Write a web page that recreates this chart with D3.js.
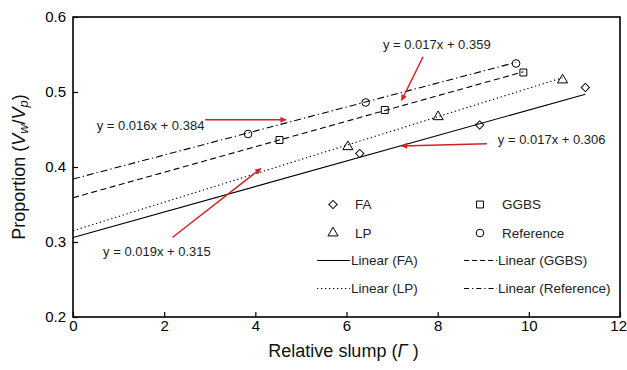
<!DOCTYPE html>
<html>
<head>
<meta charset="utf-8">
<script src="https://cdn.jsdelivr.net/npm/d3@7"></script>
<style>
  html, body { margin: 0; padding: 0; background: #fff; }
  svg { display: block; font-family: "Liberation Sans", Arial, sans-serif; }
</style>
</head>
<body>
<svg id="chart" width="627" height="370"></svg>
<script>
// ---- data ----
const faX = [6.29, 8.92, 11.24];
const faY = [0.418, 0.456, 0.506];
const lpX = [6.03, 8.01, 10.74];
const lpY = [0.427, 0.467, 0.516];
const ggbsX = [4.53, 6.84, 9.88];
const ggbsY = [0.436, 0.476, 0.526];
const refX = [3.84, 6.42, 9.72];
const refY = [0.444, 0.486, 0.538];

const seriesNames = ["FA", "GGBS", "LP", "Reference"];
const slopes = [0.017, 0.017, 0.019, 0.016];
const intercepts = [0.306, 0.359, 0.315, 0.384];
const equationLabels = ["y = 0.017x + 0.306", "y = 0.017x + 0.359", "y = 0.019x + 0.315", "y = 0.016x + 0.384"];

const xTicks = [0, 2, 4, 6, 8, 10, 12];
const yTicks = [0.2, 0.3, 0.4, 0.5, 0.6];

// ---- layout ----
const svg = d3.select("#chart");
const margin = { left: 73, right: 7, top: 17, bottom: 53 };
const W = 627, H = 370;
const x = d3.scaleLinear().domain([0, 12]).range([margin.left, W - margin.right]);
const y = d3.scaleLinear().domain([0.2, 0.6]).range([H - margin.bottom, margin.top]);

const series = [
  { name: "FA", xs: faX, ys: faY, shape: "diamond", dash: null },
  { name: "GGBS", xs: ggbsX, ys: ggbsY, shape: "square", dash: "6,3.5" },
  { name: "LP", xs: lpX, ys: lpY, shape: "triangle", dash: "1.3,2.7" },
  { name: "Reference", xs: refX, ys: refY, shape: "circle", dash: "7,3,1.3,3" }
];

// axes
const xAxis = d3.axisBottom(x).tickValues(xTicks).tickSize(-5).tickPadding(5).tickFormat(d3.format("d"));
const yAxis = d3.axisLeft(y).tickValues(yTicks).tickSize(-5).tickPadding(7).tickFormat(d3.format(".1f"));

const gx = svg.append("g").attr("transform", `translate(0,${y(0.2)})`).call(xAxis);
const gy = svg.append("g").attr("transform", `translate(${x(0)},0)`).call(yAxis);
[gx, gy].forEach(g => {
  g.select(".domain").remove();
  g.selectAll(".tick line").attr("stroke", "#000").attr("stroke-width", 1.2);
  g.selectAll(".tick text").attr("fill", "#000").style("font-size", "15px");
});
gx.selectAll(".tick text").attr("dy", "0.6em");
// last label sits at the right edge: keep it inside the page
gx.selectAll(".tick text").filter(d => d === 12).attr("text-anchor", "end").attr("x", W - x(12) - 0.5);

// frame
svg.append("rect")
  .attr("x", x(0)).attr("y", y(0.6))
  .attr("width", x(12) - x(0)).attr("height", y(0.2) - y(0.6))
  .attr("fill", "none").attr("stroke", "#000").attr("stroke-width", 1.6);

// trend lines
const line = d3.line().x(d => x(d[0])).y(d => y(d[1]));
series.forEach(s => {
  const k = seriesNames.indexOf(s.name);
  const xmax = d3.max(s.xs);
  const pts = [[0, intercepts[k]], [xmax, intercepts[k] + slopes[k] * xmax]];
  svg.append("path").attr("d", line(pts))
    .attr("fill", "none").attr("stroke", "#000").attr("stroke-width", 1.1)
    .attr("stroke-dasharray", s.dash);
});

// markers
const symbolFor = {
  diamond: d3.symbol().type(d3.symbolSquare).size(34),
  square: d3.symbol().type(d3.symbolSquare).size(48),
  triangle: d3.symbol().type(d3.symbolTriangle).size(44),
  circle: d3.symbol().type(d3.symbolCircle).size(46)
};
function drawMarker(g, shape, cx, cy) {
  g.append("path").attr("d", symbolFor[shape]())
    .attr("transform", `translate(${cx},${cy})` + (shape === "diamond" ? " rotate(45)" : ""))
    .attr("fill", "none").attr("stroke", "#000").attr("stroke-width", 1);
}
series.forEach(s => {
  s.xs.forEach((xv, j) => drawMarker(svg, s.shape, x(xv), y(s.ys[j])));
});

// annotations (positions in data units)
const red = "#d42027";
const defs = svg.append("defs");
defs.append("marker").attr("id", "ah").attr("viewBox", "0 0 10 10")
  .attr("refX", 9).attr("refY", 5).attr("markerWidth", 12).attr("markerHeight", 6)
  .attr("markerUnits", "userSpaceOnUse").attr("orient", "auto")
  .append("path").attr("d", "M0,0 L10,5 L0,10 Z").attr("fill", red);

const arrows = [
  { from: [2.90, 0.463], to: [4.67, 0.463] },
  { from: [7.68, 0.547], to: [7.21, 0.489] },
  { from: [9.08, 0.431], to: [7.21, 0.428] },
  { from: [2.18, 0.306], to: [4.12, 0.398] }
];
arrows.forEach(a => {
  svg.append("line")
    .attr("x1", x(a.from[0])).attr("y1", y(a.from[1]))
    .attr("x2", x(a.to[0])).attr("y2", y(a.to[1]))
    .attr("stroke", red).attr("stroke-width", 1.5)
    .attr("marker-end", "url(#ah)");
});

const labelPos = [
  { i: 3, at: [0.52, 0.456] },
  { i: 1, at: [6.80, 0.563] },
  { i: 0, at: [9.32, 0.437] },
  { i: 2, at: [0.66, 0.287] }
];
labelPos.forEach(l => {
  svg.append("text").attr("x", x(l.at[0])).attr("y", y(l.at[1]))
    .attr("dy", "0.35em").style("font-size", "13px").attr("fill", "#222")
    .text(equationLabels[l.i]);
});

// legend
const leg = svg.append("g");
const legItems = [
  { kind: "marker", shape: "diamond", label: "FA", col: 0, row: 0 },
  { kind: "marker", shape: "square", label: "GGBS", col: 1, row: 0 },
  { kind: "marker", shape: "triangle", label: "LP", col: 0, row: 1 },
  { kind: "marker", shape: "circle", label: "Reference", col: 1, row: 1 },
  { kind: "line", dash: null, label: "Linear (FA)", col: 0, row: 2 },
  { kind: "line", dash: "5,3", label: "Linear (GGBS)", col: 1, row: 2 },
  { kind: "line", dash: "1.3,2.7", label: "Linear (LP)", col: 0, row: 3 },
  { kind: "line", dash: "5,3,1.3,3", label: "Linear (Reference)", col: 1, row: 3 }
];
const colX = [317, 464];
const rowY = [204.5, 233, 260.5, 288.5];
legItems.forEach(it => {
  const lx = colX[it.col], ly = rowY[it.row];
  if (it.kind === "marker") {
    drawMarker(leg, it.shape, lx + 16, ly);
    leg.append("text").attr("x", lx + 38).attr("y", ly).attr("dy", "0.35em")
      .style("font-size", "13.5px").attr("fill", "#222").text(it.label);
  } else {
    leg.append("line").attr("x1", lx).attr("x2", lx + 33).attr("y1", ly).attr("y2", ly)
      .attr("stroke", "#000").attr("stroke-width", 1.1).attr("stroke-dasharray", it.dash);
    leg.append("text").attr("x", lx + 34).attr("y", ly).attr("dy", "0.35em")
      .style("font-size", "13.5px").attr("fill", "#222").text(it.label);
  }
});

// axis titles
const xt = svg.append("text").attr("x", (x(0) + x(12)) / 2 - 3).attr("y", 357)
  .attr("text-anchor", "middle").style("font-size", "18px").attr("fill", "#111");
xt.append("tspan").text("Relative slump (");
xt.append("tspan").style("font-style", "italic").text("Γ");
xt.append("tspan").text(" )");

const yt = svg.append("text").attr("transform", `translate(25,${(y(0.2) + y(0.6)) / 2}) rotate(-90)`)
  .attr("text-anchor", "middle").style("font-size", "18px").attr("fill", "#111");
yt.append("tspan").text("Proportion (");
yt.append("tspan").style("font-style", "italic").text("V");
yt.append("tspan").style("font-style", "italic").style("font-size", "13px").attr("dy", "3").text("w");
yt.append("tspan").attr("dy", "-3").text("/");
yt.append("tspan").style("font-style", "italic").text("V");
yt.append("tspan").style("font-style", "italic").style("font-size", "13px").attr("dy", "3").text("p");
yt.append("tspan").attr("dy", "-3").text(")");
</script>
</body>
</html>
